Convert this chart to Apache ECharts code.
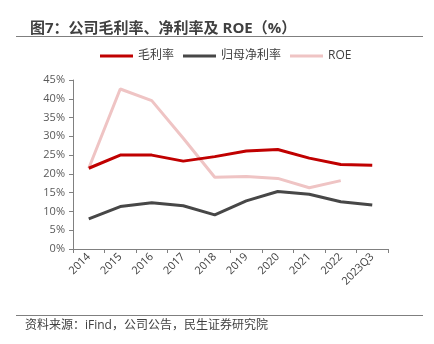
<!DOCTYPE html>
<html><head><meta charset="utf-8">
<style>html,body{margin:0;padding:0;background:#fff;}#c{width:434px;height:344px;}</style>
<script src="https://cdn.jsdelivr.net/npm/echarts@6/dist/echarts.min.js"></script>
</head><body><div id="c"></div>
<script>
const categories = ['2014','2015','2016','2017','2018','2019','2020','2021','2022','2023Q3'];
const grossMargin = [21.5, 25.0, 25.0, 23.4, 24.6, 26.1, 26.5, 24.2, 22.5, 22.3];
const netMargin = [8.0, 11.3, 12.3, 11.5, 9.1, 12.8, 15.3, 14.6, 12.6, 11.7];
const roe = [21.5, 42.6, 39.5, 29.5, 19.1, 19.3, 18.8, 16.3, 18.2, null];
const seriesNames = ['毛利率', '归母净利率', 'ROE'];
const colors = ['#C00000', '#474747', '#EFC4C4'];

const chart = echarts.init(document.getElementById('c'));
const font = 'Open Sans, "Noto Sans CJK SC", sans-serif';
chart.setOption({
  animation: false,
  textStyle: {fontFamily: font},
  title: {
    text: '图7：公司毛利率、净利率及 ROE（%）',
    left: 25, top: 16,
    textStyle: {fontSize: 15, fontWeight: 'bold', color: '#404040', fontFamily: font}
  },
  graphic: [
    {type: 'line', shape: {x1: 16, y1: 36.5, x2: 423, y2: 36.5}, style: {stroke: '#7f7f7f', lineWidth: 1}},
    {type: 'line', shape: {x1: 16, y1: 315.5, x2: 423, y2: 315.5}, style: {stroke: '#7f7f7f', lineWidth: 1}},
    {type: 'text', left: 25, top: 320, style: {text: '资料来源：iFind，公司公告，民生证券研究院', fontSize: 12, fill: '#404040', fontFamily: font}}
  ],
  legend: {
    top: 45, left: 95,
    itemWidth: 33, itemHeight: 3, itemGap: 9,
    icon: 'rect',
    textStyle: {fontSize: 12, color: '#404040'},
    data: seriesNames
  },
  grid: {left: 73, right: 46, top: 80, bottom: 95},
  xAxis: {
    type: 'category', data: categories, boundaryGap: true,
    axisLine: {lineStyle: {color: '#808080', width: 1}},
    axisTick: {show: true, length: 4, lineStyle: {color: '#808080'}},
    axisLabel: {rotate: 45, fontSize: 11, color: '#404040', margin: 6}
  },
  yAxis: {
    type: 'value', min: 0, max: 45, interval: 5,
    axisLine: {show: true, lineStyle: {color: '#808080', width: 1}},
    axisTick: {show: true, length: 4, lineStyle: {color: '#808080'}},
    splitLine: {show: false},
    axisLabel: {formatter: '{value}%', fontSize: 11, color: '#595959', margin: 8}
  },
  series: [
    {name: seriesNames[0], type: 'line', data: grossMargin, symbol: 'none', lineStyle: {width: 3, color: colors[0]}, itemStyle: {color: colors[0]}, z: 3},
    {name: seriesNames[1], type: 'line', data: netMargin, symbol: 'none', lineStyle: {width: 3, color: colors[1]}, itemStyle: {color: colors[1]}, z: 3},
    {name: seriesNames[2], type: 'line', data: roe, symbol: 'none', lineStyle: {width: 3, color: colors[2]}, itemStyle: {color: colors[2]}, z: 2}
  ]
});
</script>
</body></html>
